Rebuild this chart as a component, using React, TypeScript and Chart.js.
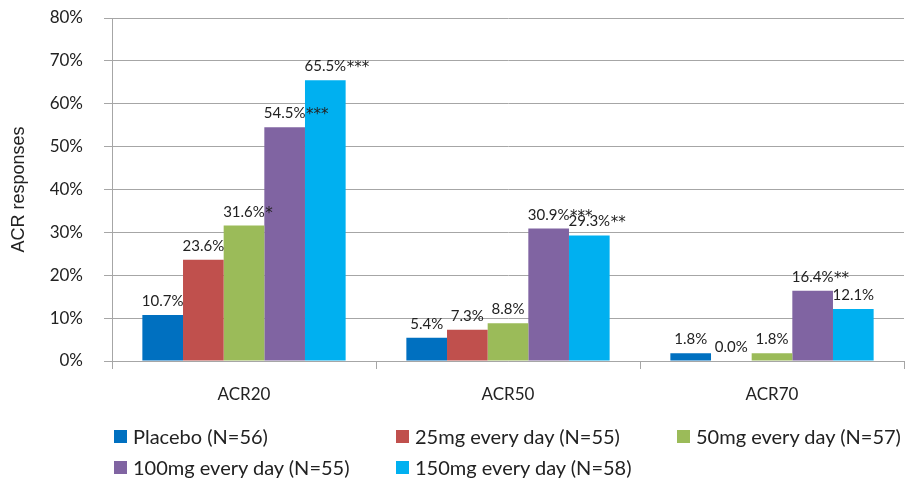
import React, { useEffect, useRef } from 'react';
import { Chart, registerables } from 'chart.js';

Chart.register(...registerables);

const categories = ['ACR20', 'ACR50', 'ACR70'];
const seriesNames = [
  'Placebo (N=56)',
  '25mg every day (N=55)',
  '50mg every day (N=57)',
  '100mg every day (N=55)',
  '150mg every day (N=58)',
];
const seriesColors = ['#0070C0', '#C0504D', '#9BBB59', '#8064A2', '#00B0F0'];

const placebo = [10.7, 5.4, 1.8];
const mg25 = [23.6, 7.3, 0.0];
const mg50 = [31.6, 8.8, 1.8];
const mg100 = [54.5, 30.9, 16.4];
const mg150 = [65.5, 29.3, 12.1];

const placeboSig = ['', '', ''];
const mg25Sig = ['', '', ''];
const mg50Sig = ['*', '', ''];
const mg100Sig = ['***', '***', '**'];
const mg150Sig = ['***', '**', ''];

const yAxisTitle = 'ACR responses';
const yMin = 0;
const yMax = 80;
const yStep = 10;

const seriesValues = [placebo, mg25, mg50, mg100, mg150];
const seriesSig = [placeboSig, mg25Sig, mg50Sig, mg100Sig, mg150Sig];

const FONT = 'Lato, "Open Sans", sans-serif';
const TEXT = '#222222';
const GRID = '#a6a6a6';

const barLabelPlugin = {
  id: 'barLabels',
  afterDatasetsDraw(chart: any) {
    const ctx = chart.ctx;
    ctx.save();
    ctx.fillStyle = TEXT;
    ctx.textBaseline = 'alphabetic';
    chart.data.datasets.forEach((ds: any, i: number) => {
      const meta = chart.getDatasetMeta(i);
      meta.data.forEach((el: any, j: number) => {
        const v = ds.data[j] as number;
        const num = v.toFixed(1) + '%';
        const star = seriesSig[i][j];
        const y = el.y - 9;
        ctx.font = `15px ${FONT}`;
        ctx.textAlign = 'center';
        ctx.fillText(num, el.x, y);
        if (star) {
          const w = ctx.measureText(num).width;
          ctx.font = `15px "DejaVu Sans", sans-serif`;
          ctx.textAlign = 'left';
          ctx.fillText(star, el.x + w / 2 + 0.5, y + 1);
        }
      });
    });
    ctx.restore();
  },
};

const legendCols = [114, 396, 677];
const legendRows = [436, 467];
const legendSlots = [
  [0, 0],
  [1, 0],
  [2, 0],
  [0, 1],
  [1, 1],
];

export default function App() {
  const canvasRef = useRef<HTMLCanvasElement | null>(null);

  useEffect(() => {
    const canvas = canvasRef.current;
    if (!canvas) return;
    const chart = new Chart(canvas, {
      type: 'bar',
      data: {
        labels: categories,
        datasets: seriesNames.map((name, i) => ({
          label: name,
          data: seriesValues[i],
          backgroundColor: seriesColors[i],
          borderWidth: 0,
          categoryPercentage: 0.77,
          barPercentage: 1,
        })),
      },
      options: {
        animation: false,
        responsive: true,
        maintainAspectRatio: false,
        layout: { padding: { top: 18, left: 0, right: 2, bottom: 68 } },
        plugins: {
          legend: { display: false },
          tooltip: { enabled: false },
        },
        scales: {
          x: {
            offset: true,
            grid: {
              offset: true,
              drawOnChartArea: false,
              drawTicks: true,
              tickLength: 8,
              color: GRID,
            },
            border: { color: GRID, width: 1 },
            ticks: {
              color: TEXT,
              font: { family: FONT, size: 17 },
              padding: 15,
            },
            afterFit: (scale: any) => {
              scale.height = 50;
              scale.paddingLeft = 0;
              scale.paddingRight = 0;
            },
          },
          y: {
            min: yMin,
            max: yMax,
            ticks: {
              stepSize: yStep,
              color: TEXT,
              font: { family: FONT, size: 17 },
              padding: 21,
              callback: (v: any) => `${v}%`,
            },
            grid: {
              color: GRID,
              drawTicks: true,
              tickLength: 8,
            },
            border: { color: GRID, width: 1 },
            title: {
              display: true,
              text: yAxisTitle,
              color: TEXT,
              font: { family: '"Liberation Sans", Arial, sans-serif', size: 18 },
              padding: { top: 8, bottom: 0 },
            },
            afterFit: (scale: any) => {
              scale.width = 112;
              scale.paddingTop = 0;
              scale.paddingBottom = 0;
            },
          },
        },
      },
      plugins: [barLabelPlugin],
    });
    let alive = true;
    if ((document as any).fonts) {
      Promise.all([
        (document as any).fonts.load(`15px Lato`),
        (document as any).fonts.load(`18px "Liberation Sans"`),
        (document as any).fonts.load(`15px "DejaVu Sans"`),
      ]).then(() => {
        if (alive) chart.update();
      });
    }
    return () => {
      alive = false;
      chart.destroy();
    };
  }, []);

  return (
    <div
      style={{
        position: 'fixed',
        left: 0,
        top: 0,
        width: 906,
        height: 479,
        background: '#ffffff',
        overflow: 'hidden',
      }}
    >
      <canvas ref={canvasRef} />
      {seriesNames.map((name, i) => {
        const [c, r] = legendSlots[i];
        return (
          <div
            key={name}
            style={{
              position: 'absolute',
              left: legendCols[c],
              top: legendRows[r] - 12,
              height: 24,
              display: 'flex',
              alignItems: 'center',
              whiteSpace: 'nowrap',
              fontFamily: FONT,
              fontSize: 20,
              color: TEXT,
            }}
          >
            <span
              style={{
                display: 'inline-block',
                width: 13,
                height: 13,
                background: seriesColors[i],
                marginRight: 6,
              }}
            />
            <span>{name}</span>
          </div>
        );
      })}
    </div>
  );
}
